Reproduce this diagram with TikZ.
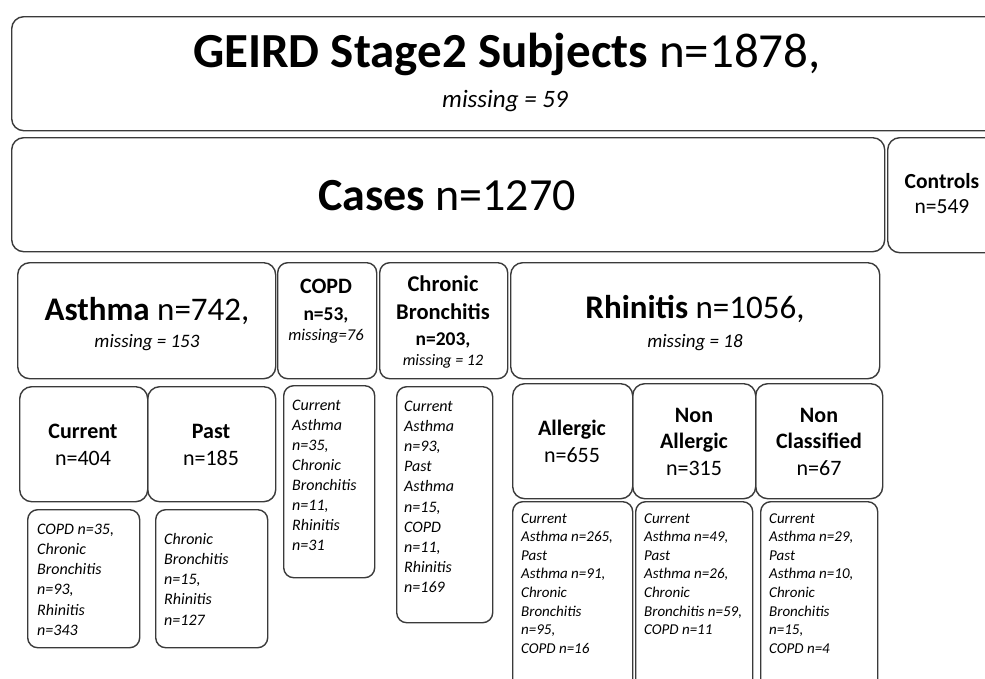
\documentclass[tikz,border=0pt]{standalone}
\usepackage{fontspec}
\setmainfont{Carlito}
\definecolor{linec}{HTML}{3a3a3a}
\newcommand\fs[1]{\fontsize{#1}{#1}\selectfont}
\newcommand\clines[2]{\vtop{\baselineskip=#1pt\lineskiplimit=-1000pt\lineskip=0pt\halign{\hfil##\hfil\cr#2\crcr}}}
\newcommand\llines[2]{\vtop{\baselineskip=#1pt\lineskiplimit=-1000pt\lineskip=0pt\halign{##\hfil\cr#2\crcr}}}
\begin{document}
\begin{tikzpicture}[x=1pt,y=-1pt,
  bx/.style={draw=linec, line width=1.4pt, rounded corners=12pt, anchor=north west, inner sep=0pt},
  sbx/.style={draw=linec, line width=1.4pt, rounded corners=10pt, anchor=north west, inner sep=0pt},
  tx/.style={inner sep=0pt, anchor=base, text=black},
  dt/.style={inner sep=0pt, anchor=base west, text=black, font=\fs{16}\itshape},
  rdt/.style={inner sep=0pt, anchor=base west, text=black, font=\fs{15}\itshape}]
\useasboundingbox (0,0) rectangle (985,678);
\clip (0,0) rectangle (985,678);
% boxes
\node[bx, minimum width=992pt, minimum height=114pt] (geird) at (11,16) {};
\node[bx, minimum width=873pt, minimum height=114pt] (cases) at (11,137) {};
\node[bx, minimum width=115pt, minimum height=115pt] (controls) at (887,137) {};
\node[bx, minimum width=258pt, minimum height=116pt] (asthma) at (17,262) {};
\node[sbx, minimum width=99pt, minimum height=116pt] (copd) at (277,262) {};
\node[sbx, minimum width=128pt, minimum height=116pt] (cb) at (379,262) {};
\node[bx, minimum width=369pt, minimum height=116pt] (rhin) at (510,262) {};
\node[bx, minimum width=128pt, minimum height=115pt] (current) at (19,386) {};
\node[bx, minimum width=128pt, minimum height=115pt] (past) at (147,386) {};
\node[sbx, minimum width=112pt, minimum height=138pt] (curdet) at (27,509) {};
\node[sbx, minimum width=112pt, minimum height=138pt] (pastdet) at (155,509) {};
\node[sbx, minimum width=91pt, minimum height=192pt] (copddet) at (283,385) {};
\node[sbx, minimum width=96pt, minimum height=236pt] (cbdet) at (396,386) {};
\node[bx, minimum width=120pt, minimum height=115pt] (allergic) at (512,383) {};
\node[bx, minimum width=123pt, minimum height=115pt] (nonall) at (632,383) {};
\node[bx, minimum width=127pt, minimum height=115pt] (noncl) at (755,383) {};
\node[sbx, minimum width=120pt, minimum height=200pt] (alldet) at (512,501) {};
\node[sbx, minimum width=117pt, minimum height=200pt] (nadet) at (635,501) {};
\node[sbx, minimum width=117pt, minimum height=200pt] (ncdet) at (760,501) {};
% headers
\node[tx, font=\fs{49}] (tgeird) at (507,67) {\textbf{GEIRD Stage2 Subjects} n=1878,};
\node[tx, font=\fs{25}\itshape] (tgeirdm) at (505,107) {missing = 59};
\node[tx, font=\fs{46}] (tcases) at (447,210) {\textbf{Cases} n=1270};
\node[tx, font=\fs{21.5}] (tcontrols) at (942,188) {\textbf{Controls}};
\node[tx, font=\fs{21.5}] (tcontrolsn) at (942,213) {n=549};
\node[tx, font=\fs{33}] (tasthma) at (147,320) {\textbf{Asthma} n=742,};
\node[tx, font=\fs{19}\itshape] (tasthmam) at (147,347) {missing = 153};
\node[tx, font=\fs{22}\bfseries] (tcopd) at (326,293) {COPD};
\node[tx, font=\fs{19.5}\bfseries] (tcopdn) at (326,320) {n=53,};
\node[tx, font=\fs{16.5}\itshape] (tcopdm) at (326,340) {missing=76};
\node[tx, font=\fs{22.5}\bfseries] (tcb) at (443,291) {\clines{28}{Chronic\cr Bronchitis}};
\node[tx, font=\fs{19.5}\bfseries] (tcbn) at (443,345) {n=203,};
\node[tx, font=\fs{16}\itshape] (tcbm) at (443,365) {missing = 12};
\node[tx, font=\fs{33}] (trhin) at (695,318) {\textbf{Rhinitis} n=1056,};
\node[tx, font=\fs{19}\itshape] (trhinm) at (695,347) {missing = 18};
\node[tx, font=\fs{22}] (tcur) at (83,438) {\clines{27}{\textbf{Current}\cr n=404}};
\node[tx, font=\fs{22}] (tpast) at (211,438) {\clines{27}{\textbf{Past}\cr n=185}};
\node[tx, font=\fs{22}] (tall) at (572,435) {\clines{27}{\textbf{Allergic}\cr n=655}};
\node[tx, font=\fs{22}] (tnall) at (694,422) {\clines{26.5}{\textbf{Non}\cr \textbf{Allergic}\cr n=315}};
\node[tx, font=\fs{22}] (tncl) at (819,422) {\clines{26.5}{\textbf{Non}\cr \textbf{Classified}\cr n=67}};
% details
\node[dt] (dcur) at (37,534) {\llines{20.3}{COPD n=35,\cr Chronic\cr Bronchitis\cr n=93,\cr Rhinitis\cr n=343}};
\node[dt] (dpast) at (164,544) {\llines{20.3}{Chronic\cr Bronchitis\cr n=15,\cr Rhinitis\cr n=127}};
\node[dt] (dcopd) at (292,410) {\llines{20.1}{Current\cr Asthma\cr n=35,\cr Chronic\cr Bronchitis\cr n=11,\cr Rhinitis\cr n=31}};
\node[dt] (dcb) at (404,411) {\llines{20.2}{Current\cr Asthma\cr n=93,\cr Past\cr Asthma\cr n=15,\cr COPD\cr n=11,\cr Rhinitis\cr n=169}};
\node[rdt] (dall) at (521,523) {\llines{18.6}{Current\cr Asthma n=265,\cr Past\cr Asthma n=91,\cr Chronic\cr Bronchitis\cr n=95,\cr COPD n=16}};
\node[rdt] (dnall) at (644,523) {\llines{18.6}{Current\cr Asthma n=49,\cr Past\cr Asthma n=26,\cr Chronic\cr Bronchitis n=59,\cr COPD n=11}};
\node[rdt] (dncl) at (769,523) {\llines{18.6}{Current\cr Asthma n=29,\cr Past\cr Asthma n=10,\cr Chronic\cr Bronchitis\cr n=15,\cr COPD n=4}};
\end{tikzpicture}
\end{document}
